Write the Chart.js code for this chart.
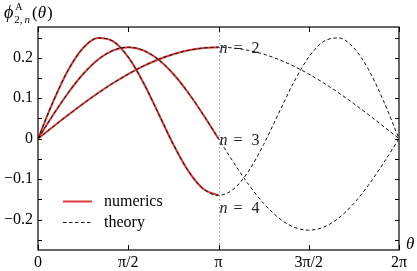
<!DOCTYPE html>
<html>
<head>
<script src="https://cdn.jsdelivr.net/npm/chart.js"></script>
<title>phi A 2,n</title>
<style>
  html, body { margin: 0; padding: 0; background: #fff; }
</style>
</head>
<body>
<canvas id="myChart" width="417" height="271"></canvas>
<script>
// theta samples (radians), step pi/12
const theta = [0, 0.2618, 0.5236, 0.7854, 1.0472, 1.3090, 1.5708, 1.8326, 2.0944, 2.3562, 2.6180, 2.8798, 3.1416,
               3.4034, 3.6652, 3.9270, 4.1888, 4.4506, 4.7124, 4.9742, 5.2360, 5.4978, 5.7596, 6.0214, 6.2832];

// theory curves over [0, 2pi]
const theoryN2 = [0, 0.0295, 0.0585, 0.0865, 0.113, 0.1376, 0.1598, 0.1793, 0.1957, 0.2088, 0.2183, 0.2241, 0.226,
                  0.2241, 0.2183, 0.2088, 0.1957, 0.1793, 0.1598, 0.1376, 0.113, 0.0865, 0.0585, 0.0295, 0];
const theoryN3 = [0, 0.0585, 0.113, 0.1598, 0.1957, 0.2183, 0.226, 0.2183, 0.1957, 0.1598, 0.113, 0.0585, 0,
                  -0.0585, -0.113, -0.1598, -0.1957, -0.2183, -0.226, -0.2183, -0.1957, -0.1598, -0.113, -0.0585, 0];
const theoryN4 = [0, 0.0909, 0.1691, 0.2242, 0.2489, 0.2406, 0.2016, 0.139, 0.0629, -0.0143, -0.0802, -0.1244, -0.14,
                  -0.1244, -0.0802, -0.0143, 0.0629, 0.139, 0.2016, 0.2406, 0.2489, 0.2242, 0.1691, 0.0909, 0];

// numerics over [0, pi]
const numN2 = [0, 0.0295, 0.0585, 0.0865, 0.113, 0.1376, 0.1598, 0.1793, 0.1957, 0.2088, 0.2183, 0.2241, 0.226];
const numN3 = [0, 0.0585, 0.113, 0.1598, 0.1957, 0.2183, 0.226, 0.2183, 0.1957, 0.1598, 0.113, 0.0585, 0];
const numN4 = [0, 0.0909, 0.1691, 0.2242, 0.2489, 0.2406, 0.2016, 0.139, 0.0629, -0.0143, -0.0802, -0.1244, -0.14];

const xTicks = [0, Math.PI / 2, Math.PI, 3 * Math.PI / 2, 2 * Math.PI];
const xTickLabels = ['0', 'π/2', 'π', '3π/2', '2π'];
const yTicks = [-0.2, -0.1, 0, 0.1, 0.2];
const yTickLabels = ['−0.2', '−0.1', '0', '0.1', '0.2'];
const yMinorTicks = [-0.25, -0.2, -0.15, -0.1, -0.05, 0, 0.05, 0.1, 0.15, 0.2, 0.25];
const curveNames = ['2', '3', '4'];
const curveLabelY = [0.226, 0, -0.14];
const legendNames = ['numerics', 'theory'];

const SERIF = '"Liberation Serif", "DejaVu Serif", serif';
const RED = '#d93a36';

function pts(arr) {
  return arr.map((v, i) => ({ x: theta[i], y: v }));
}

function numSet(arr) {
  return { data: pts(arr), borderColor: RED, borderWidth: 2, pointRadius: 0,
           cubicInterpolationMode: 'monotone', order: 1 };
}
function theorySet(arr) {
  return { data: pts(arr), borderColor: '#111', borderWidth: 1, borderDash: [3.5, 2.5],
           pointRadius: 0, cubicInterpolationMode: 'monotone', order: 0 };
}

// draws text pieces one after another, returns end x
function chain(ctx, x, y, parts) {
  parts.forEach(p => {
    ctx.font = p[1];
    ctx.fillText(p[0], x + (p[2] || 0), y + (p[3] || 0));
    x += ctx.measureText(p[0]).width + (p[2] || 0);
  });
  return x;
}

const extras = {
  id: 'extras',
  beforeDatasetsDraw(chart) {
    const ctx = chart.ctx, a = chart.chartArea, xs = chart.scales.x;
    const px = xs.getPixelForValue(Math.PI);
    ctx.save();
    ctx.strokeStyle = '#999';
    ctx.lineWidth = 1;
    ctx.setLineDash([1.5, 2.5]);
    ctx.beginPath();
    ctx.moveTo(Math.round(px) + 0.5, a.top);
    ctx.lineTo(Math.round(px) + 0.5, a.bottom);
    ctx.stroke();
    ctx.restore();
  },
  afterDraw(chart) {
    const ctx = chart.ctx, a = chart.chartArea, xs = chart.scales.x, ys = chart.scales.y;
    ctx.save();
    // frame
    ctx.strokeStyle = '#000';
    ctx.lineWidth = 1.2;
    ctx.strokeRect(a.left, a.top, a.right - a.left, a.bottom - a.top);
    // ticks
    ctx.lineWidth = 1;
    ctx.beginPath();
    xTicks.forEach(v => {
      const x = Math.round(xs.getPixelForValue(v)) + 0.5;
      ctx.moveTo(x, a.bottom); ctx.lineTo(x, a.bottom - 5);
      ctx.moveTo(x, a.top); ctx.lineTo(x, a.top + 5);
    });
    yMinorTicks.forEach(v => {
      const y = Math.round(ys.getPixelForValue(v)) + 0.5;
      ctx.moveTo(a.left, y); ctx.lineTo(a.left + 4, y);
      ctx.moveTo(a.right, y); ctx.lineTo(a.right - 4, y);
    });
    ctx.stroke();

    // y axis title: phi^A_{2,n}(theta)
    ctx.fillStyle = '#000';
    ctx.textBaseline = 'alphabetic';
    ctx.textAlign = 'left';
    ctx.font = 'italic 18px ' + SERIF;
    ctx.fillText('ϕ', 4, 18);
    const px0 = 4 + ctx.measureText('ϕ').width + 1;
    ctx.font = '10px ' + SERIF;
    ctx.fillText('A', px0 + 1, 10);
    const subEnd = chain(ctx, px0, 23, [['2,', '11px ' + SERIF], ['n', 'italic 11px ' + SERIF, 2]]);
    chain(ctx, subEnd + 2, 18, [['(', '17px ' + SERIF], ['θ', 'italic 17px ' + SERIF], [')', '17px ' + SERIF, 1]]);

    // x axis title
    ctx.font = 'italic 17px ' + SERIF;
    ctx.fillText('θ', 406, 249);

    // curve labels
    const lx = xs.getPixelForValue(Math.PI) + 1;
    ctx.fillStyle = '#222';
    curveNames.forEach((n, i) => {
      const y = ys.getPixelForValue(curveLabelY[i]) + (i === 2 ? 18 : 6);
      ctx.font = 'italic 16px ' + SERIF;
      ctx.fillText('n', lx, y);
      ctx.font = '16px ' + SERIF;
      ctx.fillText('=', lx + 14, y);
      ctx.fillText(n, lx + 32, y);
    });

    // legend
    ctx.fillStyle = '#000';
    ctx.strokeStyle = RED;
    ctx.lineWidth = 2;
    ctx.beginPath(); ctx.moveTo(63, 201.5); ctx.lineTo(92, 201.5); ctx.stroke();
    ctx.strokeStyle = '#111';
    ctx.lineWidth = 1;
    ctx.setLineDash([3.5, 2.5]);
    ctx.beginPath(); ctx.moveTo(63, 222.5); ctx.lineTo(92, 222.5); ctx.stroke();
    ctx.setLineDash([]);
    ctx.font = '16px ' + SERIF;
    ctx.fillText(legendNames[0], 104, 206);
    ctx.fillText(legendNames[1], 104, 227);
    ctx.restore();
  }
};

new Chart(document.getElementById('myChart'), {
  type: 'line',
  data: {
    datasets: [
      numSet(numN2), numSet(numN3), numSet(numN4),
      theorySet(theoryN2), theorySet(theoryN3), theorySet(theoryN4)
    ]
  },
  options: {
    responsive: false,
    devicePixelRatio: 1,
    animation: false,
    layout: { padding: { left: 0, top: 27, right: 18, bottom: 0 } },
    plugins: { legend: { display: false }, tooltip: { enabled: false } },
    scales: {
      x: {
        type: 'linear', min: 0, max: 2 * Math.PI,
        afterBuildTicks: s => { s.ticks = xTicks.map(v => ({ value: v })); },
        afterFit: s => { s.height = 21; },
        grid: { display: false, drawTicks: false },
        border: { display: false },
        ticks: { callback: (v, i) => xTickLabels[i], color: '#000', padding: 3,
                 maxRotation: 0, autoSkip: false, font: { family: SERIF, size: 16 } }
      },
      y: {
        min: -0.275, max: 0.276,
        afterBuildTicks: s => { s.ticks = yTicks.map(v => ({ value: v })); },
        afterFit: s => { s.width = 38; },
        grid: { display: false, drawTicks: false },
        border: { display: false },
        ticks: { callback: (v, i) => yTickLabels[i], color: '#000', padding: 5,
                 font: { family: SERIF, size: 16 } }
      }
    }
  },
  plugins: [extras]
});
</script>
</body>
</html>
